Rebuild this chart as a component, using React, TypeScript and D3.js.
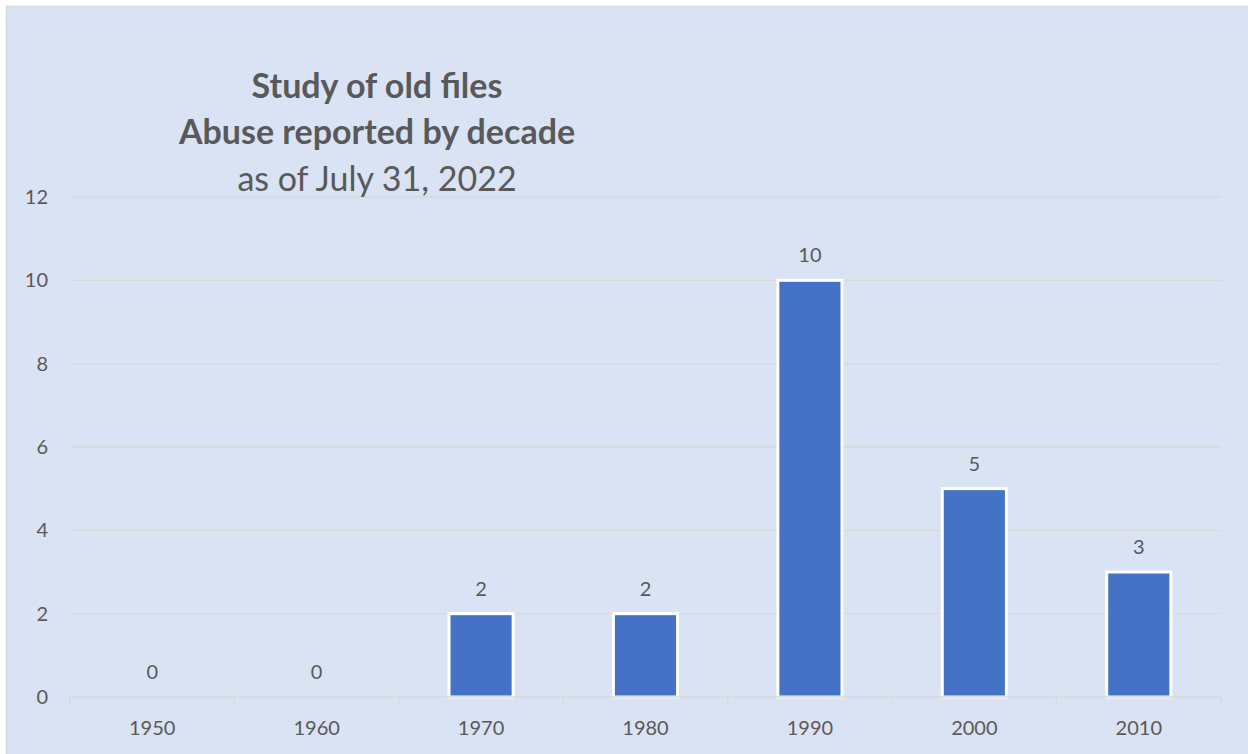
import React from "react";
import * as d3 from "d3";

const categories = ["1950", "1960", "1970", "1980", "1990", "2000", "2010"];
const values = [0, 0, 2, 2, 10, 5, 3];
const yTicks = [0, 2, 4, 6, 8, 10, 12];
const titleLines = ["Study of old files", "Abuse reported by decade"];
const subtitle = "as of July 31, 2022";

const W = 1248;
const H = 754;
const FONT = "Lato, 'Open Sans', sans-serif";
const TEXT = "#595959";

export default function App() {
  const left = 70;
  const right = 1221;
  const top = 197;
  const bottom = 697;
  const x = d3.scaleBand<string>().domain(categories).range([left, right]).paddingInner(0.61).paddingOuter(0.305);
  const xb = d3.scaleBand<string>().domain(categories).range([left, right]);
  const y = d3.scaleLinear().domain([0, 12]).range([bottom, top]);
  const boundaries = categories.map((c) => xb(c) as number).concat([right]);

  return (
    <svg width={W} height={H} style={{ position: "absolute", left: 0, top: 0 }}>
      <rect x={0} y={0} width={W} height={H} fill="#ffffff" />
      <rect x={6.5} y={6.5} width={W + 10} height={H + 10} fill="#DAE3F3" stroke="#D9D9D9" strokeWidth={1.5} />
      {yTicks.map((t) => (
        <g key={t}>
          {t > 0 && <line x1={left} x2={right} y1={y(t)} y2={y(t)} stroke="#D9D9D9" strokeWidth={1.3} />}
          <text x={48} y={y(t)} dy="0.35em" textAnchor="end" fontFamily={FONT} fontSize={20} fill={TEXT}>
            {t}
          </text>
        </g>
      ))}
      {categories.map((c, i) => {
        const v = values[i];
        const bx = x(c) as number;
        const bw = x.bandwidth();
        const cx = (xb(c) as number) + xb.bandwidth() / 2;
        return (
          <g key={c}>
            {v > 0 && (
              <rect x={bx} y={y(v)} width={bw} height={bottom - y(v)} fill="#4472C4" stroke="#ffffff" strokeWidth={3} />
            )}
            <text x={cx} y={y(v) - 18} textAnchor="middle" fontFamily={FONT} fontSize={20} fill={TEXT}>
              {v}
            </text>
            <text x={cx} y={735} textAnchor="middle" fontFamily={FONT} fontSize={20} fill={TEXT}>
              {c}
            </text>
          </g>
        );
      })}
      <line x1={left} x2={right} y1={bottom} y2={bottom} stroke="#D9D9D9" strokeWidth={1.5} />
      {boundaries.map((b, i) => (
        <line key={i} x1={b} x2={b} y1={bottom} y2={bottom + 7} stroke="#D9D9D9" strokeWidth={1.5} />
      ))}
      {titleLines.map((t, i) => (
        <text key={t} x={377} y={98 + i * 46} textAnchor="middle" fontFamily={FONT} fontWeight="bold" fontSize={34} fill={TEXT}>
          {t}
        </text>
      ))}
      <text x={377} y={191} textAnchor="middle" fontFamily={FONT} fontSize={34} fill={TEXT}>
        {subtitle}
      </text>
    </svg>
  );
}
